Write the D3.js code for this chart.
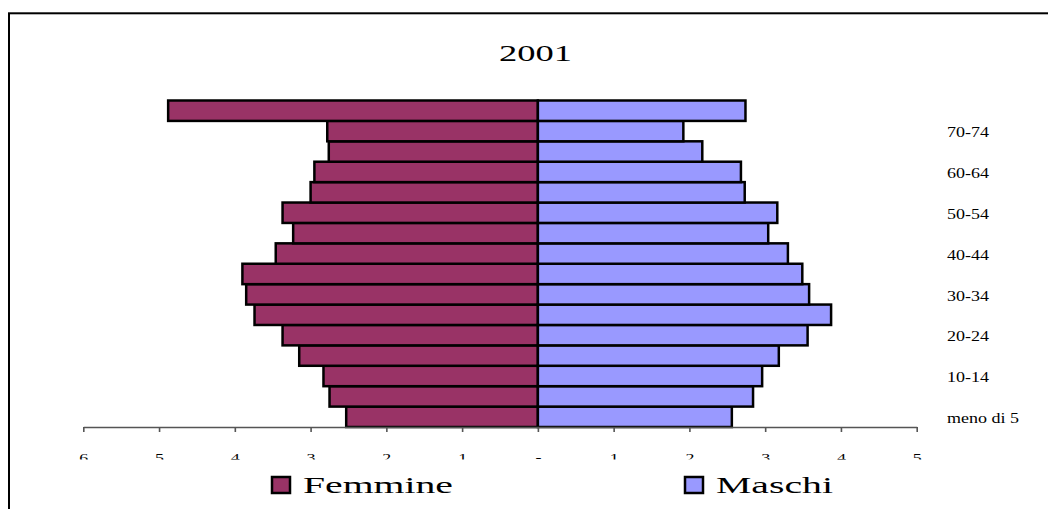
<!DOCTYPE html>
<html><head><meta charset="utf-8">
<script src="https://cdn.jsdelivr.net/npm/d3@7"></script>
<style>html,body{margin:0;padding:0;background:#fff;}svg{display:block;}</style>
</head><body>
<script>
const categories = ["meno di 5","5-9","10-14","15-19","20-24","25-29","30-34","35-39","40-44","45-49","50-54","55-59","60-64","65-69","70-74","75 e oltre"];
const femmine = [2.53,2.75,2.83,3.15,3.37,3.74,3.85,3.90,3.46,3.23,3.37,3.00,2.95,2.76,2.78,4.88];
const maschi  = [2.56,2.84,2.96,3.18,3.56,3.87,3.58,3.49,3.30,3.04,3.16,2.73,2.68,2.17,1.92,2.74];
const xTicks = [-6,-5,-4,-3,-2,-1,0,1,2,3,4,5];
const title = "2001";
const seriesNames = ["Femmine","Maschi"];
const colors = ["#993366","#9999FF"];

const W = 1048, H = 509;
const svg = d3.select("body").append("svg").attr("width", W).attr("height", H);

// outer frame
svg.append("rect").attr("x",9).attr("y",13.3).attr("width",1100).attr("height",600)
  .attr("fill","none").attr("stroke","#000").attr("stroke-width",2);

const x = d3.scaleLinear().domain([-6,5]).range([83.3,916.7]);
const y = d3.scaleBand().domain(categories).range([427,100.5]).padding(0);

// title
svg.append("text").attr("x",499).attr("y",61)
  .attr("font-family","'Liberation Serif', serif").attr("font-size",24)
  .attr("textLength",73).attr("lengthAdjust","spacingAndGlyphs")
  .text(title);

// bars
const g = svg.append("g");
g.selectAll(".f").data(categories).join("rect").attr("class","f")
  .attr("x", (d,i)=>x(-femmine[i])).attr("width",(d,i)=>x(0)-x(-femmine[i]))
  .attr("y", d=>y(d)).attr("height", y.bandwidth())
  .attr("fill",colors[0]).attr("stroke","#000").attr("stroke-width",2.5);
g.selectAll(".m").data(categories).join("rect").attr("class","m")
  .attr("x", x(0)).attr("width",(d,i)=>x(maschi[i])-x(0))
  .attr("y", d=>y(d)).attr("height", y.bandwidth())
  .attr("fill",colors[1]).attr("stroke","#000").attr("stroke-width",2.5);

// x axis (labels clipped at the bottom like the reference)
svg.append("clipPath").attr("id","clipx").append("rect")
  .attr("x",-50).attr("y",-427).attr("width",W+100).attr("height",459.5);
const xa = svg.append("g").attr("transform","translate(0,427)").attr("clip-path","url(#clipx)")
  .call(d3.axisBottom(x).tickValues(xTicks).tickSize(5).tickSizeOuter(0)
    .tickFormat(d => d===0 ? "-" : String(Math.abs(d))));
xa.select(".domain").attr("stroke","#555").attr("stroke-width",1.6);
xa.selectAll(".tick line").attr("stroke","#555").attr("stroke-width",1.6);
xa.selectAll(".tick text").attr("font-family","'Liberation Serif', serif").attr("font-size",12)
  .attr("fill","#000").attr("y",35).attr("dy",0).attr("transform","scale(1.5,1)");

// y axis labels (right side)
const ya = svg.append("g").attr("transform","translate(947,0)")
  .call(d3.axisRight(y).tickSize(0).tickPadding(0)
    .tickFormat((d,i)=> i%2===0 ? d : ""));
ya.select(".domain").remove();
ya.selectAll(".tick text").attr("font-family","'Liberation Serif', serif").attr("font-size",15)
  .attr("fill","#000").attr("x",0).attr("dy","0.42em").attr("text-anchor","start")
  .attr("transform","scale(1.2,1)");

// legend
const leg = [
  {sx:272, tx:303, tl:150},
  {sx:685, tx:716, tl:117}
];
leg.forEach((l,i)=>{
  svg.append("rect").attr("x",l.sx).attr("y",477).attr("width",18).attr("height",16)
    .attr("fill",colors[i]).attr("stroke","#000").attr("stroke-width",2.5);
  svg.append("text").attr("x",l.tx).attr("y",492.5)
    .attr("font-family","'Liberation Serif', serif").attr("font-size",23)
    .attr("textLength",l.tl).attr("lengthAdjust","spacingAndGlyphs")
    .text(seriesNames[i]);
});
</script>
</body></html>
